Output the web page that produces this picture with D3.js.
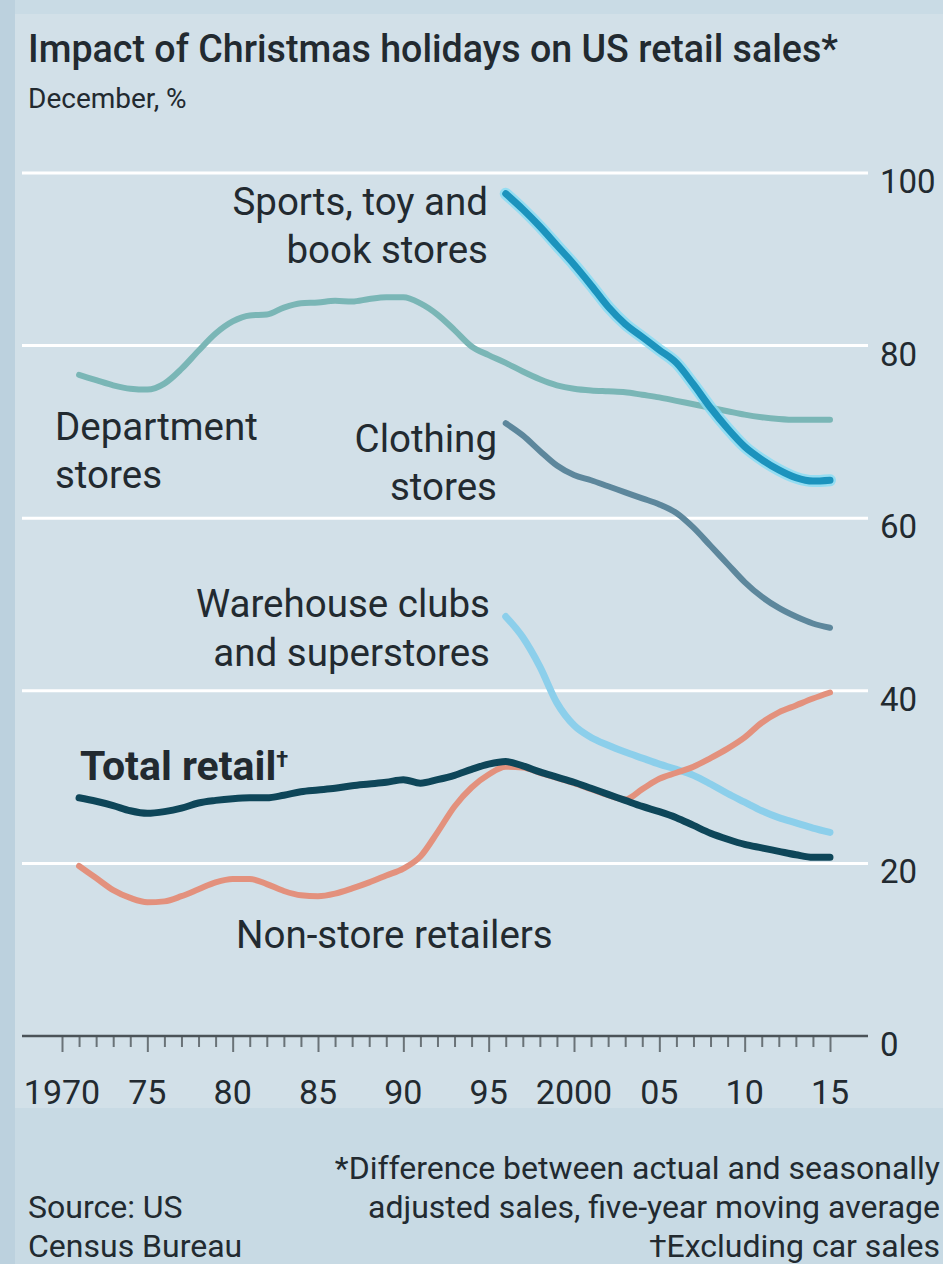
<!DOCTYPE html>
<html>
<head>
<meta charset="utf-8">
<script src="https://cdn.jsdelivr.net/npm/d3@7"></script>
<style>
  html, body { margin: 0; padding: 0; background: #d2e0e8; }
  svg { display: block; }
  text { font-family: "Roboto", "Noto Sans", sans-serif; fill: #222a30; }
</style>
</head>
<body>
<svg id="chart" width="943" height="1264"></svg>
<script>
// Years covered by each group of series (five-year moving averages)
const yearsFull = [1971,1972,1973,1974,1975,1976,1977,1978,1979,1980,
  1981,1982,1983,1984,1985,1986,1987,1988,1989,1990,
  1991,1992,1993,1994,1995,1996,1997,1998,1999,2000,
  2001,2002,2003,2004,2005,2006,2007,2008,2009,2010,
  2011,2012,2013,2014,2015];
const yearsLate = [1996,1997,1998,1999,2000,2001,2002,2003,2004,2005,
  2006,2007,2008,2009,2010,2011,2012,2013,2014,2015];

// December sales impact, %
const departmentStores = [76.6,76.0,75.4,75.0,74.9,75.6,77.3,79.4,81.4,82.8,
  83.5,83.6,84.4,84.9,85.0,85.2,85.1,85.4,85.6,85.6,
  84.9,83.6,81.8,79.9,78.9,78.0,77.0,76.1,75.4,75.0,
  74.8,74.7,74.6,74.3,74.0,73.6,73.2,72.8,72.4,72.0,
  71.7,71.5,71.4,71.4,71.4];
const totalRetail = [27.6,27.2,26.7,26.1,25.8,26.0,26.4,27.0,27.3,27.5,
  27.6,27.6,27.9,28.3,28.5,28.7,29.0,29.2,29.4,29.7,
  29.3,29.7,30.2,30.9,31.5,31.8,31.3,30.6,30.0,29.4,
  28.7,28.0,27.3,26.6,26.0,25.3,24.4,23.5,22.8,22.2,
  21.8,21.4,21.0,20.7,20.7];
const nonStoreRetailers = [19.7,18.3,16.9,16.0,15.5,15.6,16.2,17.0,17.8,18.2,
  18.2,17.6,16.8,16.3,16.2,16.5,17.1,17.8,18.6,19.4,
  20.8,23.6,26.6,28.8,30.3,31.2,31.1,30.5,29.9,29.3,
  28.6,27.9,27.4,28.6,29.8,30.5,31.2,32.2,33.3,34.6,
  36.3,37.5,38.3,39.1,39.8];
const sportsToyBook = [97.6,95.8,93.8,91.6,89.4,87.0,84.5,82.5,81.0,79.5,
  78.0,75.5,72.8,70.4,68.3,66.8,65.6,64.7,64.3,64.4];
const clothingStores = [71.0,69.6,67.8,66.1,65.0,64.4,63.7,63.0,62.3,61.6,
  60.6,58.9,56.8,54.7,52.6,50.9,49.6,48.6,47.8,47.3];
const warehouseClubs = [48.6,46.2,42.8,38.6,36.0,34.6,33.7,32.9,32.2,31.5,
  30.9,30.2,29.2,28.1,27.1,26.1,25.3,24.7,24.1,23.6];

// Axis labels
const yTicks = [0,20,40,60,80,100];
const xTickYears = [1970,1975,1980,1985,1990,1995,2000,2005,2010,2015];
const xTickLabels = ["1970","75","80","85","90","95","2000","05","10","15"];

const svg = d3.select("#chart");

// background panels
svg.append("rect").attr("x",0).attr("y",0).attr("width",943).attr("height",1264).attr("fill","#d2e0e8");
svg.append("rect").attr("x",0).attr("y",1108).attr("width",943).attr("height",156).attr("fill","#c8dae4");
svg.append("rect").attr("x",0).attr("y",0).attr("width",943).attr("height",14).attr("fill","#c9dbe5");
svg.append("rect").attr("x",0).attr("y",0).attr("width",15).attr("height",1264).attr("fill","#bcd1de");

const x = d3.scaleLinear().domain([1970, 2015]).range([62, 830]);
const y = d3.scaleLinear().domain([0, 100]).range([1036, 173]);
const gridX0 = 22, gridX1 = 868;

// horizontal gridlines
svg.append("g").selectAll("line")
  .data(yTicks.filter(d => d > 0))
  .join("line")
  .attr("x1", gridX0).attr("x2", gridX1)
  .attr("y1", d => y(d)).attr("y2", d => y(d))
  .attr("stroke", "#ffffff").attr("stroke-width", 3);

// y tick labels on the right
svg.append("g").selectAll("text")
  .data(yTicks)
  .join("text")
  .attr("x", 880).attr("y", d => y(d) + 20)
  .attr("font-size", 33)
  .text(d => d);

// x axis: yearly ticks, longer every five years
const xAxis = d3.axisBottom(x)
  .tickValues(d3.range(1970, 2016))
  .tickSize(0)
  .tickFormat("");
const axisG = svg.append("g").attr("transform", `translate(0,${y(0)})`).call(xAxis);
axisG.select(".domain").remove();
axisG.selectAll(".tick line")
  .attr("y2", d => d % 5 === 0 ? 16 : 11)
  .attr("stroke", "#6a7378").attr("stroke-width", 2);
svg.append("line")
  .attr("x1", gridX0).attr("x2", gridX1)
  .attr("y1", y(0)).attr("y2", y(0))
  .attr("stroke", "#4b5358").attr("stroke-width", 2.5);

svg.append("g").selectAll("text")
  .data(xTickYears)
  .join("text")
  .attr("x", d => x(d)).attr("y", 1104)
  .attr("text-anchor", "middle")
  .attr("font-size", 34)
  .text((d, i) => xTickLabels[i]);

// series lines
const line = d3.line()
  .x(d => x(d[0])).y(d => y(d[1]))
  .curve(d3.curveMonotoneX);

function drawSeries(years, values, color, width, halo) {
  const pts = years.map((yr, i) => [yr, values[i]]);
  if (halo) {
    svg.append("path").datum(pts).attr("d", line)
      .attr("fill", "none").attr("stroke", halo)
      .attr("stroke-width", width + 5).attr("stroke-linecap", "round")
      .attr("opacity", 0.8);
  }
  svg.append("path").datum(pts).attr("d", line)
    .attr("fill", "none").attr("stroke", color)
    .attr("stroke-width", width).attr("stroke-linecap", "round")
    .attr("stroke-linejoin", "round");
}

drawSeries(yearsFull, departmentStores, "#7ab6b6", 6);
drawSeries(yearsLate, clothingStores, "#5d879c", 6);
drawSeries(yearsLate, sportsToyBook, "#1c93bd", 7, "#86dcf4");
drawSeries(yearsLate, warehouseClubs, "#8ccfeb", 7);
drawSeries(yearsFull, nonStoreRetailers, "#e3917d", 6);
drawSeries(yearsFull, totalRetail, "#0e4659", 7);

// series labels
function label(lines, xPos, yPos, anchor, opts = {}) {
  const t = svg.append("text")
    .attr("x", xPos).attr("y", yPos)
    .attr("text-anchor", anchor)
    .attr("font-size", opts.size || 38.5)
    .attr("font-weight", opts.weight || 400);
  lines.forEach((s, i) => {
    t.append("tspan").attr("x", xPos).attr("dy", i === 0 ? 0 : (opts.lh || 48)).text(s);
  });
  return t;
}

label(["Sports, toy and", "book stores"], 488, 215, "end");
label(["Department", "stores"], 55, 440, "start");
label(["Clothing", "stores"], 497, 452, "end");
label(["Warehouse clubs", "and superstores"], 490, 617, "end", { lh: 49 });
const tr = label(["Total retail"], 80, 780, "start", { weight: 700, size: 41 });
tr.append("tspan").attr("font-size", 22).attr("dy", -13).text("†");
label(["Non-store retailers"], 236, 948, "start");

// title and subtitle
svg.append("text").attr("x", 28).attr("y", 62)
  .attr("font-size", 38).attr("font-weight", 500).attr("fill", "#1d252b")
  .attr("textLength", 810).attr("lengthAdjust", "spacingAndGlyphs")
  .text("Impact of Christmas holidays on US retail sales*");
svg.append("text").attr("x", 28).attr("y", 108)
  .attr("font-size", 28)
  .text("December, %");

// footnotes and source
label(["*Difference between actual and seasonally",
       "adjusted sales, five-year moving average",
       "†Excluding car sales"], 940, 1179, "end", { size: 32, lh: 39 });
label(["Source: US", "Census Bureau"], 28, 1218, "start", { size: 32, lh: 39 });
</script>
</body>
</html>
